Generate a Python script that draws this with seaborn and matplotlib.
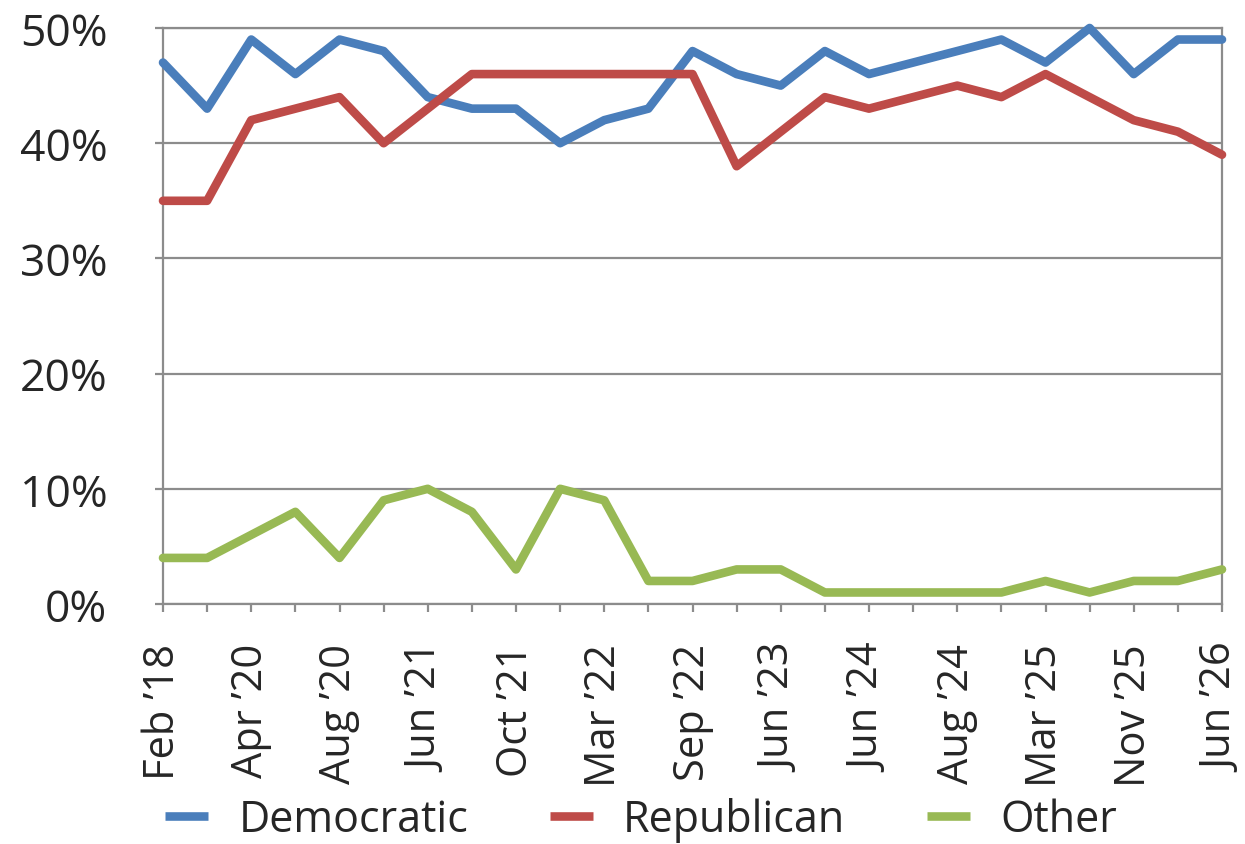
import matplotlib
matplotlib.use("Agg")
from matplotlib import pyplot as plt
from matplotlib.ticker import PercentFormatter
import pandas as pd
import seaborn as sns

# Survey waves, only every second one gets a tick label.
tick_labels = ["Feb \u201918", "Apr \u201920", "Aug \u201920", "Jun \u201921", "Oct \u201921",
               "Mar \u201922", "Sep \u201922", "Jun \u201923", "Jun \u201924", "Aug \u201924",
               "Mar \u201925", "Nov \u201925", "Jun \u201926"]

democratic = [47, 43, 49, 46, 49, 48, 44, 43, 43, 40, 42, 43, 48,
              46, 45, 48, 46, 47, 48, 49, 47, 50, 46, 49, 49]
republican = [35, 35, 42, 43, 44, 40, 43, 46, 46, 46, 46, 46, 46,
              38, 41, 44, 43, 44, 45, 44, 46, 44, 42, 41, 39]
other = [4, 4, 6, 8, 4, 9, 10, 8, 3, 10, 9, 2, 2,
         3, 3, 1, 1, 1, 1, 1, 2, 1, 2, 2, 3]

series = {"Democratic": democratic, "Republican": republican, "Other": other}
colors = {"Democratic": "#4a7ebb", "Republican": "#be4b48", "Other": "#98b954"}

rows = []
for name, values in series.items():
    for i, v in enumerate(values):
        rows.append({"wave": i, "share": v / 100, "party": name})
df = pd.DataFrame(rows)

sns.set_style("white")
plt.rcParams["font.family"] = ["Open Sans", "DejaVu Sans"]

fig = plt.figure(figsize=(12.45, 8.45), dpi=100)
ax = fig.add_axes([163 / 1245, 1 - 605 / 845, (1222 - 163) / 1245, (605 - 29) / 845])

sns.lineplot(data=df, x="wave", y="share", hue="party", palette=colors,
             linewidth=6.2, ax=ax, legend=False, clip_on=False, zorder=3)

ax.set_xlim(0, len(democratic) - 1)
ax.set_ylim(0, 0.5)
ax.set_yticks([0, 0.1, 0.2, 0.3, 0.4, 0.5])
ax.yaxis.set_major_formatter(PercentFormatter(1.0, decimals=0))
ax.set_xticks(range(len(democratic)))
ax.set_xticklabels([tick_labels[i // 2] if i % 2 == 0 else "" for i in range(len(democratic))],
                   rotation=90)
ax.set_xlabel("")
ax.set_ylabel("")

ax.grid(axis="y", color="#8c8c8c", linewidth=1.6)
ax.set_axisbelow(True)
for side in ["left", "bottom", "right", "top"]:
    ax.spines[side].set_color("#8c8c8c")
    ax.spines[side].set_linewidth(1.6)

ax.tick_params(axis="y", length=6, width=1.6, color="#8c8c8c", pad=34, labelsize=32)
ax.tick_params(axis="x", length=6, width=1.6, color="#8c8c8c", pad=22, labelsize=30)
ax.tick_params(left=True, bottom=True)

handles = [plt.Line2D([], [], color=colors[n], linewidth=6.2, solid_capstyle="butt")
           for n in series]
fig.legend(handles, list(series), loc="lower center", bbox_to_anchor=(0.515, -0.043),
           ncol=3, frameon=False, fontsize=31, handlelength=1.0,
           handletextpad=0.7, columnspacing=1.9)

fig.savefig("out.png", dpi=100)
